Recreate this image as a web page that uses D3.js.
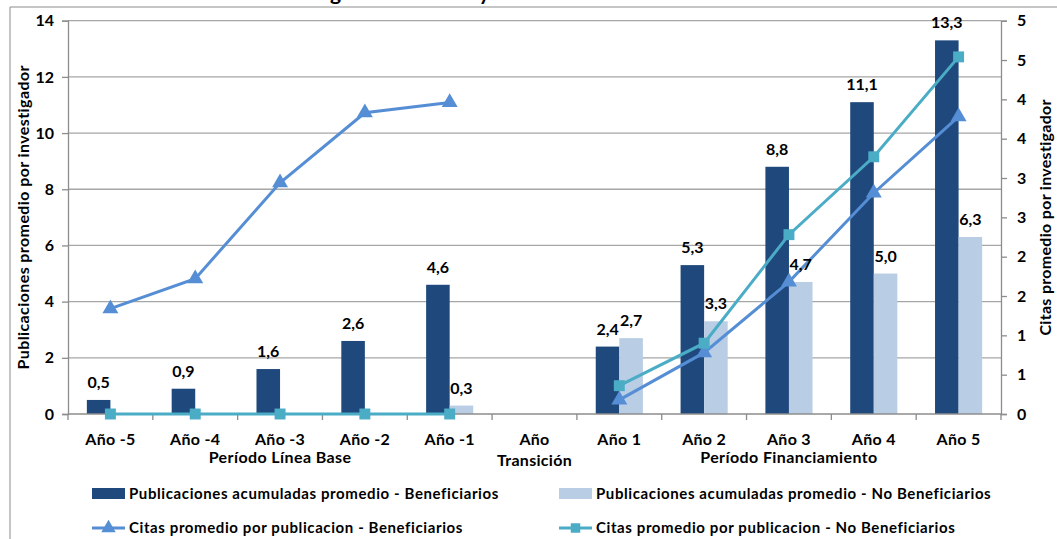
<!DOCTYPE html>
<html>
<head>
<meta charset="utf-8">
<script src="https://cdn.jsdelivr.net/npm/d3@7/dist/d3.min.js"></script>
<style>
  body { margin: 0; background: #fff; }
  svg text { font-family: Lato, "Open Sans", sans-serif; fill: #000; }
</style>
</head>
<body>
<svg id="chart" width="1057" height="539"></svg>
<script>
var categories = ["Año -5", "Año -4", "Año -3", "Año -2", "Año -1", "Año|Transición", "Año 1", "Año 2", "Año 3", "Año 4", "Año 5"];
var pubBenef   = [0.5, 0.9, 1.6, 2.6, 4.6, null, 2.4, 5.3, 8.8, 11.1, 13.3];
var pubNoBenef = [null, null, null, null, 0.3, null, 2.7, 3.3, 4.7, 5.0, 6.3];
var citasBenef   = [1.34, 1.72, 2.94, 3.83, 3.96, null, 0.18, 0.78, 1.68, 2.81, 3.78];
var citasNoBenef = [0, 0, 0, 0, 0, null, 0.36, 0.90, 2.28, 3.27, 4.54];
var leftTicks = [0, 2, 4, 6, 8, 10, 12, 14];
var rightTicks = [0, 0.5, 1, 1.5, 2, 2.5, 3, 3.5, 4, 4.5, 5];
var groups = [
  {label: "Período Línea Base", from: 0, to: 4},
  {label: "Período Financiamiento", from: 6, to: 10}
];
var legendItems = [
  {label: "Publicaciones acumuladas promedio - Beneficiarios", type: "bar", color: "#1F497D"},
  {label: "Publicaciones acumuladas promedio - No Beneficiarios", type: "bar", color: "#B9CDE5"},
  {label: "Citas promedio por publicacion - Beneficiarios", type: "tri", color: "#558ED5"},
  {label: "Citas promedio por publicacion - No Beneficiarios", type: "sq", color: "#4BACC6"}
];

var svg = d3.select("#chart");
var margin = {left: 68, right: 56, top: 20.7, bottom: 125};
var W = 1057, H = 539;
var fmt = function(v) { return d3.format(".1f")(v).replace(".", ","); };

// outer frame (only top and left edge visible)
svg.append("path")
  .attr("d", "M10,539V7H1057")
  .attr("fill", "none")
  .attr("stroke", "#8c8c8c")
  .attr("stroke-width", 1);

// title, only its descenders are inside the picture
var title = svg.append("text")
  .attr("y", 0)
  .attr("font-size", "21px")
  .attr("font-weight", "bold")
  .text("Publicaciones Programa Doctoral y Citas");
var gIdx = title.text().indexOf("g");
title.attr("x", 335 - title.node().getSubStringLength(0, gIdx) - 5);

var x = d3.scaleBand()
  .domain(categories)
  .range([margin.left, W - margin.right]);
var x1 = d3.scaleBand()
  .domain(["b", "n"])
  .range([0, x.bandwidth()])
  .paddingOuter(0.8);
var y = d3.scaleLinear().domain([0, 14]).range([H - margin.bottom, margin.top]);
var y2 = d3.scaleLinear().domain([0, 5]).range([H - margin.bottom, margin.top]);

// gridlines
svg.append("g")
  .selectAll("line")
  .data(leftTicks.slice(1))
  .join("line")
  .attr("x1", margin.left).attr("x2", W - margin.right)
  .attr("y1", d => y(d)).attr("y2", d => y(d))
  .attr("stroke", "#a6a6a6")
  .attr("stroke-width", 1.3);

// axes
var axLeft = svg.append("g")
  .attr("transform", "translate(" + margin.left + ",0)")
  .call(d3.axisLeft(y).tickValues(leftTicks).tickSize(6).tickPadding(8));
var axRight = svg.append("g")
  .attr("transform", "translate(" + (W - margin.right) + ",0)")
  .call(d3.axisRight(y2).tickValues(rightTicks).tickSize(6).tickPadding(10)
    .tickFormat(d => Math.round(d)));
[axLeft, axRight].forEach(function(a) {
  a.select(".domain").attr("stroke", "#8c8c8c").attr("stroke-width", 1.3);
  a.selectAll(".tick line").attr("stroke", "#8c8c8c").attr("stroke-width", 1.3);
  a.selectAll(".tick text")
    .attr("font-family", "Lato, sans-serif")
    .attr("font-size", "16px")
    .attr("font-weight", "bold")
    .attr("fill", "#000");
});

// bars
var bars = svg.append("g");
bars.selectAll("rect.b")
  .data(categories.map((c, i) => ({c: c, v: pubBenef[i]})).filter(d => d.v != null))
  .join("rect")
  .attr("class", "b")
  .attr("x", d => x(d.c) + x1("b"))
  .attr("width", x1.bandwidth())
  .attr("y", d => y(d.v))
  .attr("height", d => y(0) - y(d.v))
  .attr("fill", "#1F497D");
bars.selectAll("rect.n")
  .data(categories.map((c, i) => ({c: c, v: pubNoBenef[i]})).filter(d => d.v != null))
  .join("rect")
  .attr("class", "n")
  .attr("x", d => x(d.c) + x1("n"))
  .attr("width", x1.bandwidth())
  .attr("y", d => y(d.v))
  .attr("height", d => y(0) - y(d.v))
  .attr("fill", "#B9CDE5");

// x axis
var x0 = y(0);
svg.append("line")
  .attr("x1", margin.left).attr("x2", W - margin.right)
  .attr("y1", x0).attr("y2", x0)
  .attr("stroke", "#8c8c8c").attr("stroke-width", 1.3);
svg.append("g")
  .selectAll("line")
  .data(categories.map(c => x(c)).concat([W - margin.right]))
  .join("line")
  .attr("x1", d => d).attr("x2", d => d)
  .attr("y1", x0).attr("y2", x0 + 6)
  .attr("stroke", "#8c8c8c").attr("stroke-width", 1.3);
var xl = svg.append("g").selectAll("text")
  .data(categories)
  .join("text")
  .attr("x", d => x(d) + x.bandwidth() / 2)
  .attr("y", x0 + 31)
  .attr("text-anchor", "middle")
  .attr("font-size", "16px")
  .attr("letter-spacing", "0.3px")
  .attr("font-weight", "bold");
xl.selectAll("tspan")
  .data(d => d.split("|"))
  .join("tspan")
  .attr("x", function() { return d3.select(this.parentNode).attr("x"); })
  .attr("dy", (d, i) => i ? 21 : 0)
  .text(d => d);

svg.append("g").selectAll("text")
  .data(groups)
  .join("text")
  .attr("x", d => (x(categories[d.from]) + x(categories[d.to]) + x.bandwidth()) / 2)
  .attr("y", x0 + 49)
  .attr("text-anchor", "middle")
  .attr("font-size", "16px")
  .attr("letter-spacing", "0.4px")
  .attr("font-weight", "bold")
  .text(d => d.label);

// lines
var cx = c => x(c) + x.bandwidth() / 2;
function drawLine(vals, color, shape) {
  var pts = categories.map((c, i) => ({c: c, v: vals[i]}));
  var line = d3.line()
    .defined(d => d.v != null)
    .x(d => cx(d.c))
    .y(d => y2(d.v));
  svg.append("path")
    .datum(pts)
    .attr("d", line)
    .attr("fill", "none")
    .attr("stroke", color)
    .attr("stroke-width", 3);
  svg.append("g").selectAll("path")
    .data(pts.filter(d => d.v != null))
    .join("path")
    .attr("transform", d => "translate(" + cx(d.c) + "," + y2(d.v) + ")")
    .attr("d", d3.symbol().type(shape === "tri" ? d3.symbolTriangle : d3.symbolSquare).size(shape === "tri" ? 110 : 120))
    .attr("fill", color);
}
drawLine(citasBenef, "#558ED5", "tri");
drawLine(citasNoBenef, "#4BACC6", "sq");

// data labels
var labels = svg.append("g")
  .attr("font-size", "16px")
  .attr("font-weight", "bold")
  .attr("text-anchor", "middle");
labels.selectAll("text.b")
  .data(categories.map((c, i) => ({c: c, v: pubBenef[i]})).filter(d => d.v != null))
  .join("text")
  .attr("x", d => x(d.c) + x1("b") + x1.bandwidth() / 2)
  .attr("y", d => y(d.v) - 12)
  .text(d => fmt(d.v));
labels.selectAll("text.n")
  .data(categories.map((c, i) => ({c: c, v: pubNoBenef[i]})).filter(d => d.v != null))
  .join("text")
  .attr("x", d => x(d.c) + x1("n") + x1.bandwidth() / 2)
  .attr("y", d => y(d.v) - 12)
  .text(d => fmt(d.v));

// axis titles
svg.append("text")
  .attr("transform", "translate(29," + ((y(0) + y(14)) / 2) + ") rotate(-90)")
  .attr("text-anchor", "middle")
  .attr("font-size", "16px")
  .attr("letter-spacing", "0.4px")
  .attr("font-weight", "bold")
  .text("Publicaciones  promedio por investigador");
svg.append("text")
  .attr("transform", "translate(1051," + ((y(0) + y(14)) / 2) + ") rotate(-90)")
  .attr("text-anchor", "middle")
  .attr("font-size", "16px")
  .attr("letter-spacing", "0.3px")
  .attr("font-weight", "bold")
  .text("Citas promedio por investigador");

// legend
var leg = svg.append("g")
  .selectAll("g")
  .data(legendItems)
  .join("g")
  .attr("transform", (d, i) => "translate(" + (i % 2 ? 559 : 92) + "," + (i < 2 ? 494 : 528) + ")");
leg.filter(d => d.type === "bar").append("rect")
  .attr("x", 0).attr("y", -6).attr("width", 33).attr("height", 11)
  .attr("fill", d => d.color);
leg.filter(d => d.type !== "bar").append("line")
  .attr("x1", 0).attr("x2", 33)
  .attr("stroke", d => d.color).attr("stroke-width", 3);
leg.filter(d => d.type !== "bar").append("path")
  .attr("transform", "translate(16.5,0)")
  .attr("d", d => d3.symbol().type(d.type === "tri" ? d3.symbolTriangle : d3.symbolSquare).size(90)())
  .attr("fill", d => d.color);
leg.append("text")
  .attr("x", 37)
  .attr("dy", "0.35em")
  .attr("font-size", "15px")
  .attr("letter-spacing", "0.6px")
  .attr("font-weight", "bold")
  .text(d => d.label);
</script>
</body>
</html>
